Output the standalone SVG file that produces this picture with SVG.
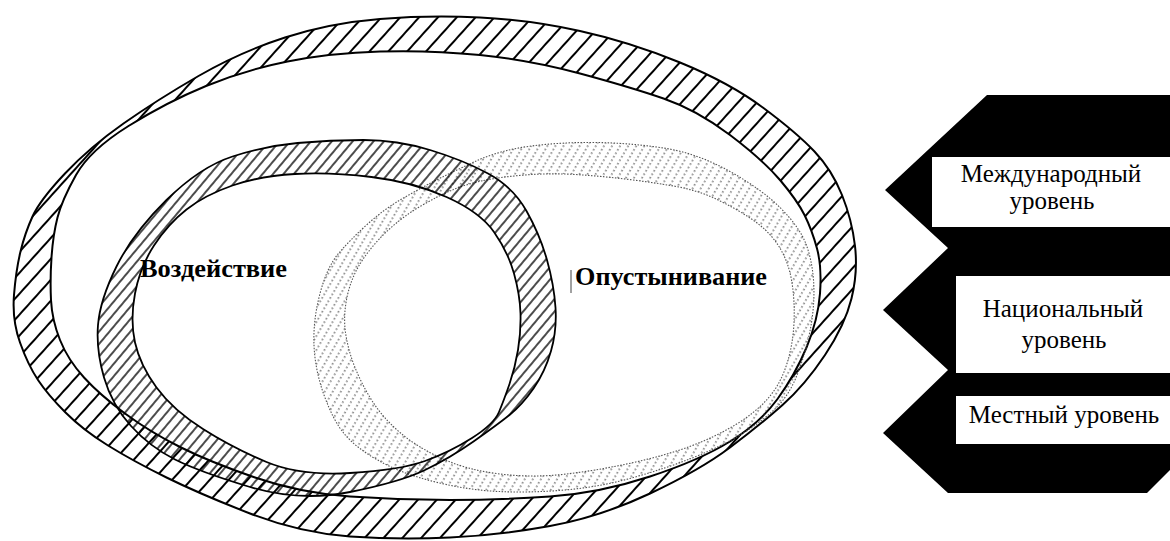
<svg xmlns="http://www.w3.org/2000/svg" width="1170" height="541" viewBox="0 0 1170 541">
<style>
.ring-big{fill:url(#hatchBig);fill-rule:evenodd;stroke:#000;stroke-width:2}
.ring-left{fill:url(#hatchLeft);fill-rule:evenodd;stroke:#000;stroke-width:1.8}
.ring-right{fill:url(#hatchRight);fill-rule:evenodd;stroke:#555;stroke-width:1.1;stroke-dasharray:1.5 1.5}
.lbl-bold{font-family:"Liberation Serif","Times New Roman",serif;font-weight:bold;font-size:25px;fill:#000}
.lbl{font-family:"Liberation Serif","Times New Roman",serif;font-size:25px;fill:#000;text-anchor:middle}
.box{fill:#fff}
</style>
<defs>
<pattern id="hatchBig" patternUnits="userSpaceOnUse" width="14" height="14" patternTransform="rotate(42)">
<line x1="1" y1="-2" x2="1" y2="16" stroke="#000" stroke-width="2"/>
</pattern>
<pattern id="hatchLeft" patternUnits="userSpaceOnUse" width="8" height="8" patternTransform="rotate(40)">
<line x1="1" y1="-2" x2="1" y2="10" stroke="#000" stroke-width="1.4"/>
</pattern>
<pattern id="hatchRight" patternUnits="userSpaceOnUse" width="7" height="8" patternTransform="rotate(30)">
<line x1="1" y1="0" x2="1" y2="8" stroke="#333" stroke-width="1.1" stroke-dasharray="1.6 2.4"/>
</pattern>
</defs>
<rect width="1170" height="541" fill="#fff"/>

<g id="ring-big">
<path class="ring-big" d="M285,37.5 Q330,23 380,19 Q430,15 480,17.5 Q530,20 580,31 Q630,42 680,62.5 Q730,83 763.5,108 Q797,133 814.5,151.5 Q832,170 842,195 Q852,220 855,246 Q858,272 851.5,298.5 Q845,325 825,355 Q805,385 782.5,405 Q760,425 730,447.5 Q700,470 650,493.5 Q600,517 550,526 Q500,535 450,537.5 Q400,540 350,536.5 Q300,533 250,513.5 Q200,494 166.5,477.5 Q133,461 108,445.5 Q83,430 65.5,412.5 Q48,395 38,380 Q28,365 20,342.5 Q12,320 14,295 Q16,270 20.5,251.5 Q25,233 32.5,216.5 Q40,200 65,173.5 Q90,147 123.5,123.5 Q157,100 198.5,76 Q240,52 285,37.5 Z
M287.5,61.5 Q330,53 380,51.5 Q430,50 480,55 Q530,60 580,73.5 Q630,87 663.5,98.5 Q697,110 730,135 Q763,160 780,180 Q797,200 804.5,215 Q812,230 817,248.5 Q822,267 820,293.5 Q818,320 806.5,347.5 Q795,375 777.5,399 Q760,423 730,441.5 Q700,460 650,476.5 Q600,493 550,496.5 Q500,500 450,500 Q400,500 350,496.5 Q300,493 255,477.5 Q210,462 180,447 Q150,432 125,413.5 Q100,395 84,377.5 Q68,360 60,340 Q52,320 51,300 Q50,280 51.5,257.5 Q53,235 57.5,217.5 Q62,200 76,175 Q90,150 128.5,126 Q167,102 206,86 Q245,70 287.5,61.5 Z"/>
</g>

<g id="ring-desertification">
<path class="ring-right" d="M475,161.5 Q500,150 531.5,146 Q563,142 596.5,142.5 Q630,143 663.5,148 Q697,153 730,171.5 Q763,190 781.5,209 Q800,228 806,244 Q812,260 813.5,280 Q815,300 811.5,322.5 Q808,345 799,370 Q790,395 775,409 Q760,423 740,435 Q720,447 693.5,457.5 Q667,468 633.5,477.5 Q600,487 565,490 Q530,493 498.5,491.5 Q467,490 433.5,481.5 Q400,473 377.5,460 Q355,447 344,433.5 Q333,420 324,395 Q315,370 314,345 Q313,320 320,293.5 Q327,267 338.5,253.5 Q350,240 366.5,225 Q383,210 400,200 Q417,190 433.5,181.5 Q450,173 475,161.5 Z
M483.5,180.5 Q500,177 525,175 Q550,173 575,174.5 Q600,176 625,179 Q650,182 673.5,186 Q697,190 716,199 Q735,208 751.5,219 Q768,230 778,245 Q788,260 791.5,280 Q795,300 794,322.5 Q793,345 786.5,365 Q780,385 767.5,399 Q755,413 735,425 Q715,437 691,446 Q667,455 633.5,462.5 Q600,470 566.5,474 Q533,478 500,474 Q467,470 442,458.5 Q417,447 400,432.5 Q383,418 372.5,401.5 Q362,385 355,367.5 Q348,350 345.5,332.5 Q343,315 347.5,295 Q352,275 363.5,258.5 Q375,242 390,228.5 Q405,215 422.5,205 Q440,195 453.5,189.5 Q467,184 483.5,180.5 Z"/>
</g>

<g id="ring-impact">
<path class="ring-left" d="M297.5,143 Q330,140 363.5,140 Q397,140 430,150 Q463,160 488,173.5 Q513,187 526.5,211 Q540,235 547,260 Q554,285 555.5,307.5 Q557,330 551,351 Q545,372 533.5,388.5 Q522,405 509.5,415 Q497,425 473.5,441.5 Q450,458 425,470 Q400,482 350,492 Q300,502 250,487 Q200,472 175,459.5 Q150,447 131,426 Q112,405 104,377.5 Q96,350 98,325 Q100,300 116.5,266.5 Q133,233 166.5,200 Q200,167 232.5,156.5 Q265,146 297.5,143 Z
M295,174 Q330,172 371.5,177 Q413,182 446.5,197 Q480,212 494,232 Q508,252 514,273.5 Q520,295 520.5,313.5 Q521,332 518,350 Q515,368 509.5,384 Q504,400 499,412 Q494,424 472,438 Q450,452 425,461 Q400,470 350,473 Q300,476 266.5,462 Q233,448 203,429 Q173,410 156.5,387.5 Q140,365 135,342.5 Q130,320 135,293.5 Q140,267 154,245.5 Q168,224 186.5,209.5 Q205,195 232.5,185.5 Q260,176 295,174 Z"/>
</g>

<g id="label-impact">
<text class="lbl-bold" x="140" y="277" textLength="147" lengthAdjust="spacingAndGlyphs">Воздействие</text>
</g>
<g id="label-desertification">
<line x1="571" y1="270" x2="571" y2="293" stroke="#444" stroke-width="1"/>
<text class="lbl-bold" x="575" y="285" textLength="192" lengthAdjust="spacingAndGlyphs">Опустынивание</text>
</g>

<g id="connectors"></g>

<g id="levels">
<polygon id="levels-arrows" points="987,95 1170,95 1170,470 1147,493 948,493 883,433 948,370 883,310 948,248 885,190" fill="#000"/>
<g id="level-international">
<rect class="box" x="932" y="157" width="238" height="70"/>
<text class="lbl" x="1051" y="182">Международный</text>
<text class="lbl" x="1052" y="209">уровень</text>
</g>
<g id="level-national">
<rect class="box" x="956" y="276" width="214" height="97"/>
<text class="lbl" x="1063" y="317">Национальный</text>
<text class="lbl" x="1064" y="348">уровень</text>
</g>
<g id="level-local">
<rect class="box" x="956" y="396" width="214" height="48"/>
<text class="lbl" x="1064" y="423">Местный уровень</text>
</g>
</g>
</svg>
